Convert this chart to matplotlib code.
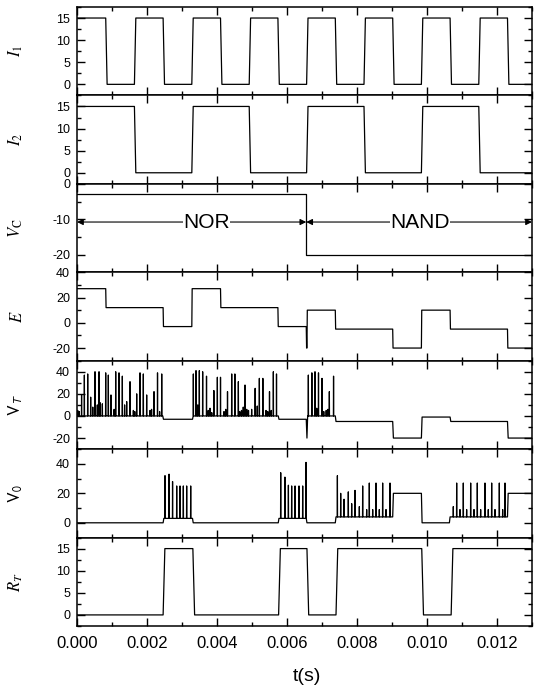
import numpy as np
import matplotlib
matplotlib.use("Agg")
import matplotlib.pyplot as plt
import matplotlib.ticker as mticker

plt.rcParams['font.family'] = ['Liberation Sans', 'DejaVu Sans']
plt.rcParams['mathtext.fontset'] = 'stix'
plt.rcParams['axes.unicode_minus'] = False

T_END = 13.0  # ms

# --- data (times in ms) ---
# input I1: switching times and levels
i1_edges = [0.82, 1.64, 2.46, 3.28, 4.10, 4.92, 5.74, 6.56, 7.38, 8.20, 9.02, 9.84, 10.66, 11.48, 12.30]
i1_levels = [15, 0, 15, 0, 15, 0, 15, 0, 15, 0, 15, 0, 15, 0, 15, 0]

# input I2
i2_edges = [1.64, 3.28, 4.92, 6.56, 8.20, 9.84, 11.48]
i2_levels = [15, 0, 15, 0, 15, 0, 15, 0]

# control voltage Vc
vc_edges = [6.55]
vc_levels = [-3, -20]

# E
e_edges = [0.82, 2.46, 3.28, 4.10, 5.74, 6.55, 6.57, 7.38, 9.02, 9.84, 10.66, 12.30]
e_levels = [27, 12, -3, 27, 12, -3, -20, 10, -5, -20, 10, -5, -20]

# V_T baseline
vt_edges = [2.45, 3.30, 5.75, 6.55, 6.57, 7.38, 9.02, 9.84, 10.66, 12.30]
vt_levels = [0, -3, 0, -3, -20, 0, -5, -20, -1, -5, -20]

# V_T spikes (time, peak)
vt_spike_t = [0.02, 0.13, 0.21, 0.305, 0.39, 0.514, 0.58, 0.629, 0.724, 0.819, 0.895, 0.97,
              1.105, 1.20, 1.295, 1.419, 1.514, 1.61, 1.705, 1.80, 1.895, 1.99, 2.086, 2.20,
              2.30, 2.42,
              3.324, 3.40, 3.495, 3.59, 3.70, 3.80, 3.91, 4.01, 4.10, 4.20, 4.30, 4.42, 4.51,
              4.61, 4.70, 4.80, 4.90, 4.99, 5.09, 5.21, 5.31, 5.40, 5.50, 5.61, 5.70,
              6.61, 6.71, 6.80, 6.90, 7.00, 7.12, 7.21, 7.33,
              # small spikes near the base
              0.06, 0.45, 0.66, 1.06, 1.36, 1.65, 2.13, 2.36, 3.45, 3.75, 3.85, 4.25, 4.65,
              4.75, 4.85, 5.15, 5.45, 5.55, 6.85, 7.05, 7.17]
vt_spike_p = [5, 19, 37, 38, 17, 40, 10, 40, 11, 39, 37, 19,
              40, 39, 36, 13, 31, 5, 20, 39, 38, 19, 5, 22,
              39, 38,
              38, 41, 41, 40, 36, 7, 23, 35, 35, 4, 22, 38, 38,
              31, 5, 28, 5, 6, 25, 34, 34, 5, 22, 40, 38,
              37, 39, 40, 39, 34, 5, 22, 36,
              4, 8, 12, 6, 10, 4, 6, 4, 10, 5, 3, 6, 4,
              8, 6, 9, 4, 5, 7, 4, 6]

# V_0 baseline
v0_edges = [2.46, 3.30, 5.75, 6.55, 7.38, 9.02, 9.84, 10.64, 12.30]
v0_levels = [0, 3, 0, 3, 0, 4, 20, 0, 4, 20]

# V_0 spikes (time, peak)
v0_spike_t = [2.514, 2.63, 2.73, 2.848, 2.943, 3.038, 3.133, 3.248,
              5.82, 5.94, 6.04, 6.133, 6.23, 6.343, 6.448, 6.543,
              7.44, 7.534, 7.63, 7.752, 7.848, 7.943, 8.067, 8.162, 8.276, 8.352, 8.448,
              8.543, 8.638, 8.733, 8.829, 8.943,
              10.752, 10.848, 10.943, 11.038, 11.133, 11.248, 11.343, 11.438, 11.533,
              11.657, 11.752, 11.848, 11.943, 12.067, 12.162, 12.229]
v0_spike_p = [32, 33, 28, 25, 25, 25, 25, 25,
              34, 31, 25.5, 25, 25, 25, 25, 41,
              32, 20, 16, 21, 13, 22, 11, 25, 9, 27, 9,
              27, 9, 27, 9, 27,
              11, 27, 9, 27, 9, 27, 9, 27, 9,
              27, 9, 27, 9, 27, 9, 27]

# R_T
rt_edges = [2.46, 3.31, 5.76, 6.57, 7.40, 9.85, 10.69]
rt_levels = [0, 15, 0, 15, 0, 15, 0, 15]


def steps(edges, levels, ramp=0.04):
    t = [0.0]
    y = [levels[0]]
    for k, e in enumerate(edges):
        t += [e, e + ramp]
        y += [levels[k], levels[k + 1]]
    t.append(T_END)
    y.append(levels[-1])
    return np.array(t), np.array(y, dtype=float)


def with_spikes(bt, by, st, sp, w=0.004):
    pts = list(zip(bt, by))
    for t0, p in zip(st, sp):
        b = np.interp(t0, bt, by)
        pts += [(t0 - w, b), (t0, p), (t0 + w, b)]
    pts.sort(key=lambda q: q[0])
    a = np.array(pts)
    return a[:, 0], a[:, 1]


panels = [
    (r'$I_1$', steps(i1_edges, i1_levels), (-2.5, 17.5), 5, 2.5),
    (r'$I_2$', steps(i2_edges, i2_levels), (-2.5, 17.5), 5, 2.5),
    (r'$V_\mathrm{C}$', steps(vc_edges, vc_levels, 0.0), (-25, 0), 10, 5),
    (r'$E$', steps(e_edges, e_levels, 0.01), (-30, 40), 20, 10),
    (r'$\mathrm{V}_T$', with_spikes(*steps(vt_edges, vt_levels, 0.02), vt_spike_t, vt_spike_p), (-30, 50), 20, 10),
    (r'$\mathrm{V}_0$', with_spikes(*steps(v0_edges, v0_levels, 0.02), v0_spike_t, v0_spike_p), (-10, 50), 20, 10),
    (r'$R_T$', steps(rt_edges, rt_levels, 0.05), (-2.5, 17.5), 5, 2.5),
]

fig, axes = plt.subplots(len(panels), 1, sharex=True, figsize=(5.36, 6.90), dpi=100)
fig.subplots_adjust(left=0.1437, right=0.9925, top=0.9899, bottom=0.0928, hspace=0)

for ax, (lab, (t, y), ylim, maj, mnr) in zip(axes, panels):
    ax.plot(t * 1e-3, y, color='black', lw=0.9)
    ax.set_ylim(*ylim)
    ax.set_xlim(0, 0.013)
    ax.yaxis.set_major_locator(mticker.MultipleLocator(maj))
    ax.yaxis.set_minor_locator(mticker.MultipleLocator(mnr))
    ax.xaxis.set_major_locator(mticker.MultipleLocator(0.002))
    ax.xaxis.set_minor_locator(mticker.MultipleLocator(0.001))
    ax.tick_params(which='both', direction='in', top=True, right=True, width=1)
    ax.tick_params(which='major', length=5.5, labelsize=9, pad=5)
    ax.tick_params(which='minor', length=3)
    for s in ax.spines.values():
        s.set_linewidth(1.1)
    math_ff = 'stixsans' if lab.startswith(r'$\mathrm{V}') else 'stix'
    ax.set_ylabel(lab, fontsize=12, math_fontfamily=math_ff)
    ax.yaxis.set_label_coords(-0.115, 0.5)

# NOR / NAND arrows on the Vc panel
axc = axes[2]
arr = dict(arrowstyle='<|-|>', color='black', lw=0.8, mutation_scale=9, shrinkA=0, shrinkB=0)
axc.annotate('', xy=(0.0, -10.8), xytext=(0.00655, -10.8), arrowprops=arr)
axc.annotate('', xy=(0.00655, -10.8), xytext=(0.013, -10.8), arrowprops=arr)
bb = dict(facecolor='white', edgecolor='none', pad=0.5)
axc.text(0.0037, -10.8, 'NOR', ha='center', va='center', fontsize=15, bbox=bb)
axc.text(0.0098, -10.8, 'NAND', ha='center', va='center', fontsize=15, bbox=bb)

axb = axes[-1]
axb.xaxis.set_major_formatter(mticker.FormatStrFormatter('%.3f'))
axb.tick_params(axis='x', which='major', labelsize=12, pad=7)
axb.set_xlabel('t(s)', fontsize=14)
axb.xaxis.set_label_coords(0.505, -0.48)

fig.savefig('out.png', dpi=100)
